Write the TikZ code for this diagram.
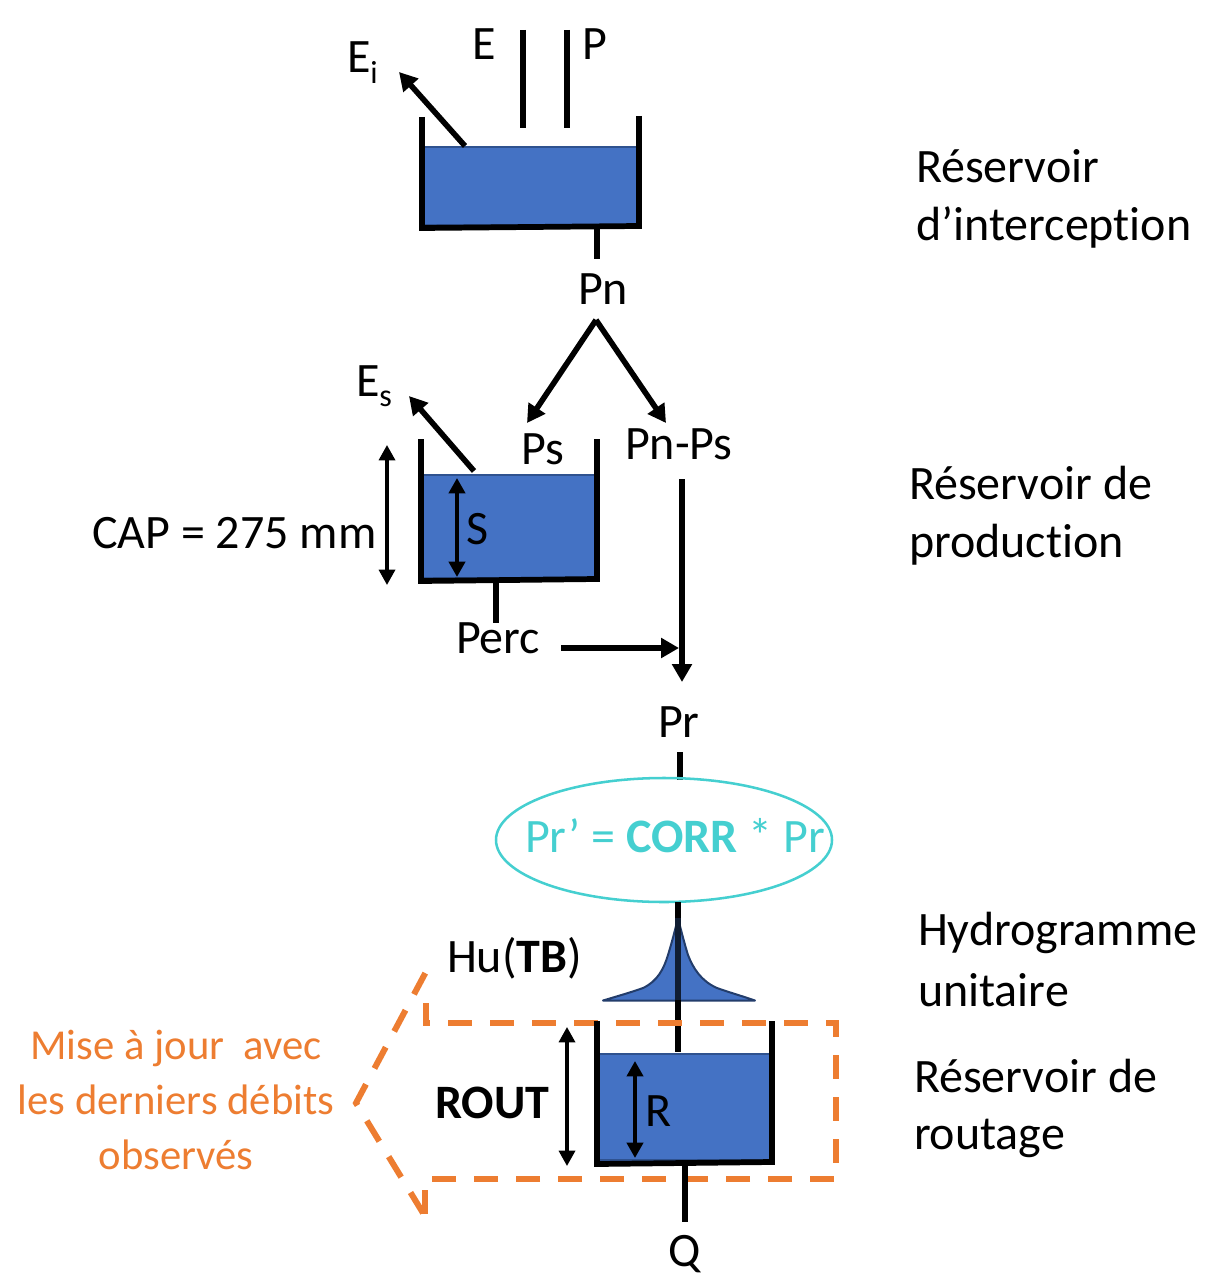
\documentclass[tikz,border=0pt]{standalone}
\usepackage{fontspec}
\setmainfont[RawFeature={-liga}]{Carlito}
\usetikzlibrary{arrows.meta}
\definecolor{water}{HTML}{4472C4}
\definecolor{waterline}{HTML}{2F528F}
\definecolor{cyanish}{HTML}{45CFD0}
\definecolor{orangeish}{HTML}{ED7D31}
\newcommand{\subtxt}[1]{\raisebox{-8pt}{\fontsize{24}{24}\selectfont #1}}
\tikzset{
  x=0.75pt,y=-0.75pt,
  lab/.style={inner sep=0pt,outer sep=0pt,anchor=base west,font=\fontsize{36}{36}\selectfont},
  labc/.style={lab,anchor=base},
  wall/.style={line width=4.3pt,line cap=butt},
  wallb/.style={line width=4.3pt,line cap=rect},
  thickarrow/.style={line width=4.2pt,-{Triangle[length=13.5pt,width=14.5pt]}},
  dimarrow/.style={line width=2.5pt,{Triangle[length=11.5pt,width=12pt]}-{Triangle[length=11.5pt,width=12pt]}},
  waterfill/.style={fill=water,draw=waterline,line width=1pt},
  orangepath/.style={draw=orangeish,line width=4.5pt,dash pattern=on 18pt off 13.5pt,line join=miter,miter limit=10},
}
\begin{document}
\begin{tikzpicture}
\useasboundingbox (0,0) rectangle (1205,1277);

% --- Tank 1
\coordinate (t1a) at (422,117); \coordinate (t1b) at (422,228);
\coordinate (t1c) at (639,116); \coordinate (t1d) at (639,226);
\path[waterfill] (424,147) rectangle (637,225);
\draw[wall] (t1a) -- (t1b);
\draw[wall] (t1c) -- (t1d);
\draw[wallb] (t1b) -- (t1d);
\coordinate (e1) at (523,30); \coordinate (e2) at (523,128);
\coordinate (p1) at (567,30); \coordinate (p2) at (567,128);
\draw[wall] (e1) -- (e2);
\draw[wall] (p1) -- (p2);
\coordinate (ei1) at (465,146); \coordinate (ei2) at (399,72);
\draw[thickarrow] (ei1) -- (ei2);
\coordinate (pn1) at (597,228); \coordinate (pn2) at (597,259);
\draw[wall] (pn1) -- (pn2);

% --- Split
\coordinate (ap) at (596,320); \coordinate (ps) at (527,423); \coordinate (pnps) at (666,423);
\draw[thickarrow] (ap) -- (ps);
\draw[thickarrow] (ap) -- (pnps);

% --- Tank 2
\coordinate (t2a) at (421,439); \coordinate (t2b) at (421,581);
\coordinate (t2c) at (597,439); \coordinate (t2d) at (597,579);
\path[waterfill] (423,475) rectangle (595,578);
\draw[wall] (t2a) -- (t2b);
\draw[wall] (t2c) -- (t2d);
\draw[wallb] (t2b) -- (t2d);
\coordinate (es1) at (474,471); \coordinate (es2) at (409,396);
\draw[thickarrow] (es1) -- (es2);
\coordinate (cap1) at (387,445); \coordinate (cap2) at (387,585);
\draw[dimarrow] (cap1) -- (cap2);
\coordinate (s1) at (457,478); \coordinate (s2) at (457,577);
\draw[dimarrow,line width=3.2pt] (s1) -- (s2);
\coordinate (pc1) at (496,581); \coordinate (pc2) at (496,623);
\draw[wall] (pc1) -- (pc2);
\coordinate (pc3) at (561,648); \coordinate (pc4) at (679,648);
\draw[thickarrow] (pc3) -- (pc4);
\coordinate (l1) at (682,479); \coordinate (l2) at (682,682);
\draw[thickarrow] (l1) -- (l2);

% --- Pr and ellipse
\coordinate (pr1) at (680,752); \coordinate (pr2) at (680,780);
\draw[wall] (pr1) -- (pr2);
\draw[cyanish,line width=1.9pt] (664,840) ellipse [x radius=168,y radius=62];

% --- Unit hydrograph
\path[fill=water,draw=waterline!75!black,line width=1.5pt,line join=round]
  (603,1000.5) .. controls (618,996) and (632,992) .. (643,988)
  .. controls (658,981) and (664,968) .. (668,955) .. controls (672,942) and (675,930) .. (678,918)
  .. controls (681,930) and (684,942) .. (688,955) .. controls (693,968) and (701,981) .. (717,988)
  .. controls (728,992) and (742,996) .. (755,1000.5) -- cycle;
\coordinate (hu1) at (678,902); \coordinate (hu0) at (678,918);
\coordinate (hu3) at (678,1000); \coordinate (hu2) at (678,1052);
\draw[line width=4.3pt] (hu1) -- (hu0);
\draw[line width=4.3pt,color=waterline!35!black] (hu0) -- (hu3);
\draw[line width=4.3pt] (hu3) -- (hu2);

% --- Tank 3
\coordinate (t3a) at (597,1021); \coordinate (t3b) at (597,1164);
\coordinate (t3c) at (772,1021); \coordinate (t3d) at (772,1162);
\path[waterfill] (599,1054) rectangle (770,1160);

% --- Orange dashed outline
\coordinate (o1) at (426,1003); \coordinate (o2) at (426,1023);
\coordinate (o3) at (836,1023); \coordinate (o4) at (836,1179);
\coordinate (o5) at (425,1179); \coordinate (o6) at (425,1214);
\coordinate (o6b) at (423,1213);
\coordinate (o7) at (356,1103); \coordinate (o8) at (428,968);
\draw[orangepath] (o1) -- (o2) -- (o3) -- (o4) -- (o5) -- (o6);
\draw[orangepath] (o6b) -- (o7) -- (o8);

\draw[wall] (t3a) -- (t3b);
\draw[wall] (t3c) -- (t3d);
\draw[wallb] (t3b) -- (t3d);
\coordinate (r1) at (635,1061); \coordinate (r2) at (635,1158);
\draw[dimarrow,line width=3.2pt] (r1) -- (r2);
\coordinate (ro1) at (567,1027); \coordinate (ro2) at (567,1166);
\draw[dimarrow] (ro1) -- (ro2);
\coordinate (q1) at (685,1164); \coordinate (q2) at (685,1222);
\draw[wall] (q1) -- (q2);

% --- Labels
\node[lab] (tE) at (472,60) {E};
\node[lab] (tP) at (582,60) {P};
\node[lab] (tEi) at (347,73) {E\subtxt{i}};
\node[lab] (tPn) at (578,304) {Pn};
\node[lab] (tEs) at (356,396) {E\subtxt{s}};
\node[lab] (tPs) at (521,464) {Ps};
\node[lab] (tPnPs) at (625,459) {Pn-Ps};
\node[lab] (tCap) at (92,548) {CAP = 275 mm};
\node[lab] (tS) at (466,544) {S};
\node[lab] (tPerc) at (456,653) {Perc};
\node[lab] (tPr) at (658,737) {Pr};
\node[lab,text=cyanish] (tCorr) at (525,852) {Pr’ = \textbf{CORR} * Pr};
\node[lab] (tHu) at (447,972) {Hu(\textbf{TB})};
\node[lab] (tRout) at (435,1118) {\textbf{ROUT}};
\node[lab] (tR) at (645,1126) {R};
\node[lab] (tQ) at (668,1266) {Q};
\node[lab] (tR1a) at (916,182) {Réservoir};
\node[lab] (tR1b) at (916,240) {d’interception};
\node[lab] (tR2a) at (909,499) {Réservoir de};
\node[lab] (tR2b) at (909,557) {production};
\node[lab] (tH1) at (918,945) {Hydrogramme};
\node[lab] (tH2) at (918,1006) {unitaire};
\node[lab] (tR3a) at (914,1092) {Réservoir de};
\node[lab] (tR3b) at (914,1149) {routage};
\node[labc,text=orangeish,font=\fontsize{32}{32}\selectfont] (tM1) at (176,1059) {Mise à jour\ \ avec};
\node[labc,text=orangeish,font=\fontsize{32}{32}\selectfont] (tM2) at (176,1114) {les derniers débits};
\node[labc,text=orangeish,font=\fontsize{32}{32}\selectfont] (tM3) at (176,1169) {observés};
\end{tikzpicture}
\end{document}
